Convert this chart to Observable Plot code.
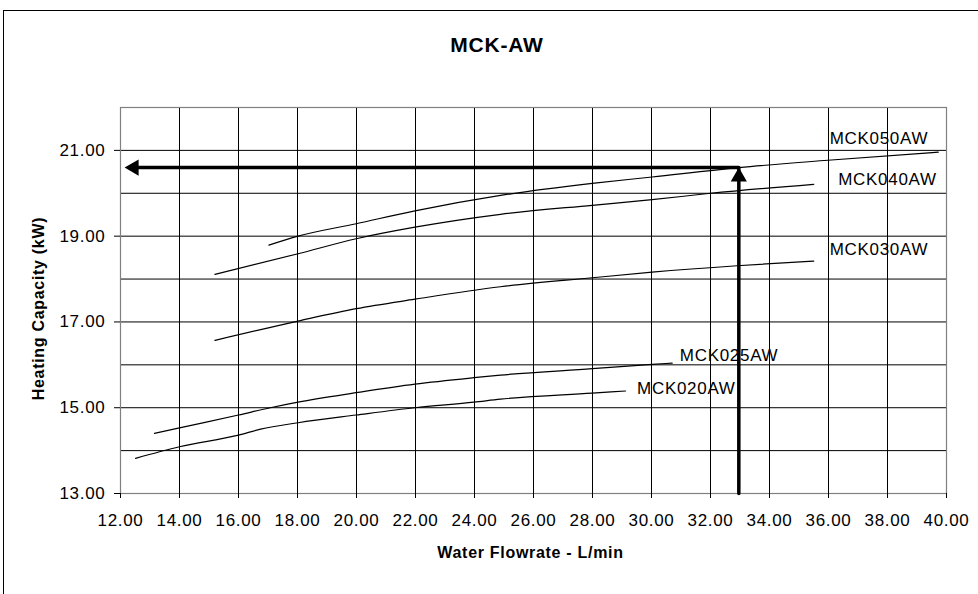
<!DOCTYPE html>
<html><head><meta charset="utf-8">
<script src="https://cdn.jsdelivr.net/npm/d3@7"></script>
<script src="https://cdn.jsdelivr.net/npm/@observablehq/plot@0.6"></script>
<style>
body{margin:0;background:#fff;}
#wrap{position:relative;width:978px;height:594px;overflow:hidden;font-family:"Liberation Sans",Arial,sans-serif;background:#fff;}
#chart{position:absolute;left:0;top:0;}
#border{position:absolute;left:3px;top:10px;width:2000px;height:2000px;border-left:1px solid #000;border-top:1px solid #000;pointer-events:none;}
#title{position:absolute;left:0;width:994px;top:34px;line-height:1;text-align:center;font-weight:bold;font-size:21px;letter-spacing:0.8px;color:#000;}
</style></head>
<body><div id="wrap"><div id="chart"></div><div id="border"></div><div id="title">MCK-AW</div></div>
<script>
const xTicks = [12, 14, 16, 18, 20, 22, 24, 26, 28, 30, 32, 34, 36, 38, 40];
const yTicks = [13, 15, 17, 19, 21];
const yGrid = [13, 14, 15, 16, 17, 18, 19, 20, 21, 22];
const seriesNames = ["MCK020AW", "MCK025AW", "MCK030AW", "MCK040AW", "MCK050AW"];

const flow020 = [12.51, 14.0, 16.0, 16.75, 18.02, 19.99, 21.98, 23.98, 24.88, 27.99, 29.12];
const cap020  = [13.82, 14.09, 14.36, 14.5, 14.65, 14.83, 15.0, 15.13, 15.2, 15.34, 15.39];
const flow025 = [13.15, 14.0, 16.0, 17.08, 18.02, 19.99, 21.98, 23.98, 24.88, 27.99, 30.02, 30.7];
const cap025  = [14.4, 14.53, 14.83, 15.0, 15.13, 15.35, 15.55, 15.7, 15.76, 15.91, 16.01, 16.04];
const flow030 = [15.2, 18.02, 19.99, 21.98, 24.88, 27.99, 30.02, 32.9, 35.5];
const cap030  = [16.57, 17.02, 17.31, 17.53, 17.82, 18.03, 18.16, 18.31, 18.42];
const flow040 = [15.2, 18.02, 19.99, 21.98, 24.88, 27.99, 30.02, 32.0, 35.5];
const cap040  = [18.11, 18.59, 18.94, 19.21, 19.51, 19.72, 19.85, 20.0, 20.21];
const flow050 = [17.03, 18.02, 19.99, 21.98, 24.88, 27.99, 30.02, 32.96, 35.98, 39.72];
const cap050  = [18.79, 19.0, 19.29, 19.59, 19.95, 20.23, 20.38, 20.6, 20.77, 20.96];

const labelFlow = [29.51, 30.96, 36.04, 36.33, 36.04];
const labelCap  = [15.45, 16.22, 18.68, 20.33, 21.28];

const arrowFlow = [32.96, 32.96, 12.45];
const arrowCap  = [13.0, 20.6, 20.6];
const arrowHeadUp = [{x: 32.96, y: 20.6}];
const arrowHeadLeft = [{x: 12.14, y: 20.6}];

const flows = [flow020, flow025, flow030, flow040, flow050];
const caps = [cap020, cap025, cap030, cap040, cap050];
const rows = seriesNames.flatMap((s, i) => flows[i].map((f, j) => ({series: s, flow: f, cap: caps[i][j]})));
const labels = seriesNames.map((s, i) => ({text: s, flow: labelFlow[i], cap: labelCap[i]}));
const arrowPath = arrowFlow.map((f, i) => ({flow: f, cap: arrowCap[i]}));
const fmt = d => d.toFixed(2);

const plot = Plot.plot({
  width: 978,
  height: 594,
  marginLeft: 120,
  marginRight: 32,
  marginTop: 107,
  marginBottom: 101,
  style: {fontFamily: '"Liberation Sans", Arial, sans-serif', fontSize: "17px", background: "transparent", color: "#000", letterSpacing: "0.7px"},
  x: {domain: [12, 40]},
  y: {domain: [13, 22]},
  marks: [
    Plot.gridX(xTicks, {stroke: "#000", strokeOpacity: 1, strokeWidth: 1}),
    Plot.gridY(yGrid, {stroke: "#000", strokeOpacity: 1, strokeWidth: 1}),
    Plot.frame({stroke: "#808080", strokeWidth: 1.2}),
    Plot.axisY(yTicks, {tickSize: 6, tickPadding: 9, fontSize: 17, tickFormat: fmt, label: null, stroke: "#000"}),
    Plot.axisX(xTicks, {tickSize: 5, tickPadding: 15, fontSize: 17, tickFormat: fmt, label: null, stroke: "#000"}),
    Plot.line(rows, {x: "flow", y: "cap", z: "series", stroke: "#000", strokeWidth: 1.2, curve: "monotone-x"}),
    Plot.text(labels, {x: "flow", y: "cap", text: "text", textAnchor: "start", fontSize: 17, fill: "#000"}),
    Plot.line(arrowPath, {x: "flow", y: "cap", stroke: "#000", strokeWidth: 3.5}),
    Plot.dot(arrowHeadUp, {x: "x", y: "y", symbol: "triangle", r: 6, fill: "#000", stroke: null, dy: 9.3}),
    Plot.dot(arrowHeadLeft, {x: "x", y: "y", symbol: "triangle", r: 6, fill: "#000", stroke: null, rotate: -90, dx: 9.3}),
    Plot.text(["Heating Capacity (kW)"], {frameAnchor: "left", textAnchor: "middle", lineAnchor: "middle", dx: -82, dy: 8, rotate: -90, fontWeight: "bold", fontSize: 16, fill: "#000"}),
    Plot.text(["Water Flowrate - L/min"], {frameAnchor: "bottom", textAnchor: "middle", lineAnchor: "middle", dx: -3, dy: 59, fontWeight: "bold", fontSize: 16, fill: "#000"})
  ]
});
document.getElementById("chart").appendChild(plot);
</script>
</body></html>
